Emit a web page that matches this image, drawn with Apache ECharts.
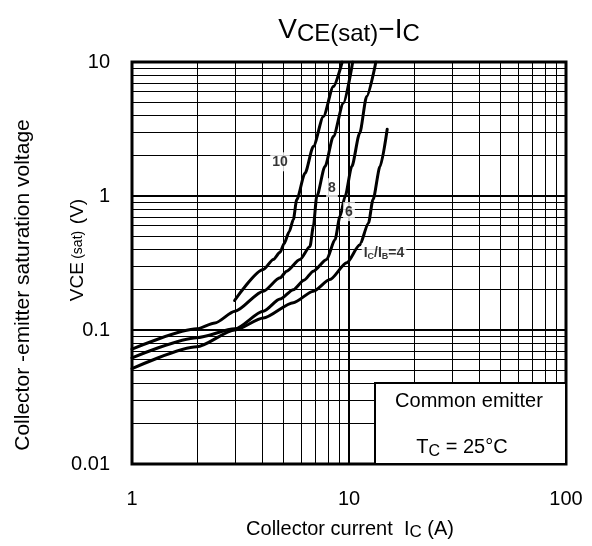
<!DOCTYPE html>
<html><head><meta charset="utf-8">
<script src="https://cdn.jsdelivr.net/npm/echarts@6/dist/echarts.min.js"></script>
<style>html,body{margin:0;padding:0;background:#fff}#c{width:592px;height:546px}</style>
</head><body><div id="c"></div>
<script>
// ---- data ----
const xTicks = [1, 10, 100];
const yTicks = [0.01, 0.1, 1, 10];
const curveNames = ['IC/IB=10', 'IC/IB=8', 'IC/IB=6', 'IC/IB=4'];
const curve10 = [[2.97,0.166],[4.03,0.283],[4.48,0.336],[4.81,0.38],[5.02,0.44],[5.3,0.54],[5.54,0.667],[5.74,0.937],[6.27,1.48],[6.85,2.34],[7.62,3.92],[8.47,6.55],[9.3,10]];
const curve8 = [[1,0.072],[1.99,0.102],[2.41,0.113],[2.98,0.138],[4.03,0.195],[4.81,0.245],[5.16,0.275],[5.94,0.336],[6.61,0.42],[6.85,0.594],[7.1,0.99],[7.75,1.66],[8.47,2.78],[9.42,4.93],[10.4,10]];
const curve6 = [[1,0.062],[1.99,0.0877],[2.98,0.102],[4.03,0.138],[4.81,0.17],[5.54,0.2],[6.2,0.235],[6.85,0.275],[7.89,0.336],[8.62,0.473],[9.09,0.705],[9.59,0.99],[10.3,1.66],[11.2,2.94],[12.06,5.52],[13.3,10]];
const curve4 = [[1,0.0514],[1.99,0.075],[2.98,0.1],[4.03,0.123],[5.54,0.16],[6.85,0.195],[8.17,0.238],[9.76,0.317],[11.2,0.43],[12.3,0.63],[12.9,0.94],[13.9,1.66],[15,3.15]];
const curveLabelText = ['10', '8', '6', '4'];
const curveLabelAt = [[4.81,1.8],[8.35,1.153],[10,0.764],[14.5,0.378]];

// ---- chart ----
const FONT = "'Liberation Sans', Arial, sans-serif";
const chart = echarts.init(document.getElementById('c'), null, {renderer: 'canvas'});

const xMinor = [], yMinor = [];
for (const d of [1, 10]) for (let k = 2; k <= 9; k++) xMinor.push(d * k);
for (const d of [0.01, 0.1, 1]) for (let k = 2; k <= 9; k++) yMinor.push(+(d * k).toPrecision(3));

function fmt(v) { return String(+(+v).toPrecision(6)); }

const curveStyle = {color: '#000', width: 3, cap: 'round', join: 'round'};
function curveSeries(name, data) {
  return {name, type: 'line', data, symbol: 'none', showSymbol: false, smooth: 0.25,
    smoothMonotone: 'x', lineStyle: curveStyle, silent: true, z: 5, animation: false};
}

const option = {
  animation: false,
  backgroundColor: '#fff',
  grid: {left: 132, right: 26, top: 62, bottom: 82, show: true, borderColor: '#000', borderWidth: 3, backgroundColor: '#fff'},
  xAxis: {
    type: 'log', logBase: 10, min: xTicks[0], max: xTicks[xTicks.length - 1],
    axisLine: {show: false}, axisTick: {show: false},
    axisLabel: {fontSize: 20, color: '#000', fontFamily: FONT, margin: 25, formatter: fmt, showMinLabel: true, showMaxLabel: true},
    splitLine: {show: true, lineStyle: {color: '#000', width: 2}}
  },
  yAxis: {
    type: 'log', logBase: 10, min: yTicks[0], max: yTicks[yTicks.length - 1],
    axisLine: {show: false}, axisTick: {show: false},
    axisLabel: {fontSize: 20, color: '#000', fontFamily: FONT, margin: 22, formatter: fmt, showMinLabel: true, showMaxLabel: true},
    splitLine: {show: true, lineStyle: {color: '#000', width: 2}}
  },
  series: [
    {type: 'line', data: [[1, 0.01]], symbol: 'none', showSymbol: false, lineStyle: {width: 0}, silent: true, z: 1,
      markLine: {silent: true, symbol: ['none', 'none'], label: {show: false}, animation: false,
        lineStyle: {color: '#000', width: 1, type: 'solid'},
        data: [...xMinor.map(v => ({xAxis: v})), ...yMinor.map(v => ({yAxis: v}))]}},
    curveSeries(curveNames[0], curve10),
    curveSeries(curveNames[1], curve8),
    curveSeries(curveNames[2], curve6),
    curveSeries(curveNames[3], curve4),
    {type: 'scatter', symbolSize: 1, itemStyle: {color: 'rgba(0,0,0,0)'}, silent: true, z: 8,
      data: curveLabelAt.map((p, i) => ({value: p, name: curveLabelText[i]})),
      label: {show: true, position: 'inside', backgroundColor: '#fff', padding: [2, 2, 1, 2],
        color: '#000', fontFamily: FONT, fontWeight: 'bold', fontSize: 14,
        formatter: p => p.dataIndex === 3 ? '{b|I}{s|C}{b|/I}{s|B}{b|=' + p.name + '}' : '{b|' + p.name + '}',
        rich: {
          b: {fontSize: 14, fontWeight: 'bold', fontFamily: FONT, color: '#000', lineHeight: 16},
          s: {fontSize: 9, fontWeight: 'bold', fontFamily: FONT, color: '#000', lineHeight: 10, verticalAlign: 'bottom'}
        }}}
  ],
  graphic: [
    {type: 'text', x: 349, y: 30, z: 50, style: {
      text: '{v|V}{s|CE(sat)}{v|\u2212I}{s|C}', align: 'center', verticalAlign: 'middle', fill: '#000',
      rich: {
        v: {fontSize: 28, lineHeight: 32, fontFamily: FONT, fill: '#000'},
        s: {fontSize: 24, lineHeight: 24, fontFamily: FONT, fill: '#000', verticalAlign: 'bottom'}
      }}},
    {type: 'text', x: 23, y: 285, rotation: Math.PI / 2, z: 50, style: {
      text: 'Collector -emitter saturation voltage', fontSize: 21, fontFamily: FONT, fill: '#000',
      align: 'center', verticalAlign: 'middle'}},
    {type: 'text', x: 78, y: 250, rotation: Math.PI / 2, z: 50, style: {
      text: '{a|VCE} {b|(sat)}  {a|(V)}', align: 'center', verticalAlign: 'middle', fill: '#000',
      rich: {
        a: {fontSize: 19, fontFamily: FONT, fill: '#000', lineHeight: 22},
        b: {fontSize: 14, fontFamily: FONT, fill: '#000', lineHeight: 22}
      }}},
    {type: 'text', x: 350, y: 529, z: 50, style: {
      text: '{a|Collector current  I}{s|C}{a| (A)}', align: 'center', verticalAlign: 'middle', fill: '#000',
      rich: {
        a: {fontSize: 20, fontFamily: FONT, fill: '#000', lineHeight: 24},
        s: {fontSize: 17, fontFamily: FONT, fill: '#000', lineHeight: 17, verticalAlign: 'bottom'}
      }}},
    {type: 'rect', z: 40, shape: {x: 375, y: 383, width: 191, height: 81},
      style: {fill: '#fff', stroke: '#000', lineWidth: 2}},
    {type: 'text', x: 469, y: 401, z: 50, style: {
      text: 'Common emitter', fontSize: 20, fontFamily: FONT, fill: '#000', align: 'center', verticalAlign: 'middle'}},
    {type: 'text', x: 462, y: 447, z: 50, style: {
      text: '{a|T}{s|C}{a| = 25°C}', align: 'center', verticalAlign: 'middle', fill: '#000',
      rich: {
        a: {fontSize: 20, fontFamily: FONT, fill: '#000', lineHeight: 26},
        s: {fontSize: 16, fontFamily: FONT, fill: '#000', lineHeight: 14, verticalAlign: 'bottom'}
      }}}
  ]
};
chart.setOption(option);
</script>
</body></html>
